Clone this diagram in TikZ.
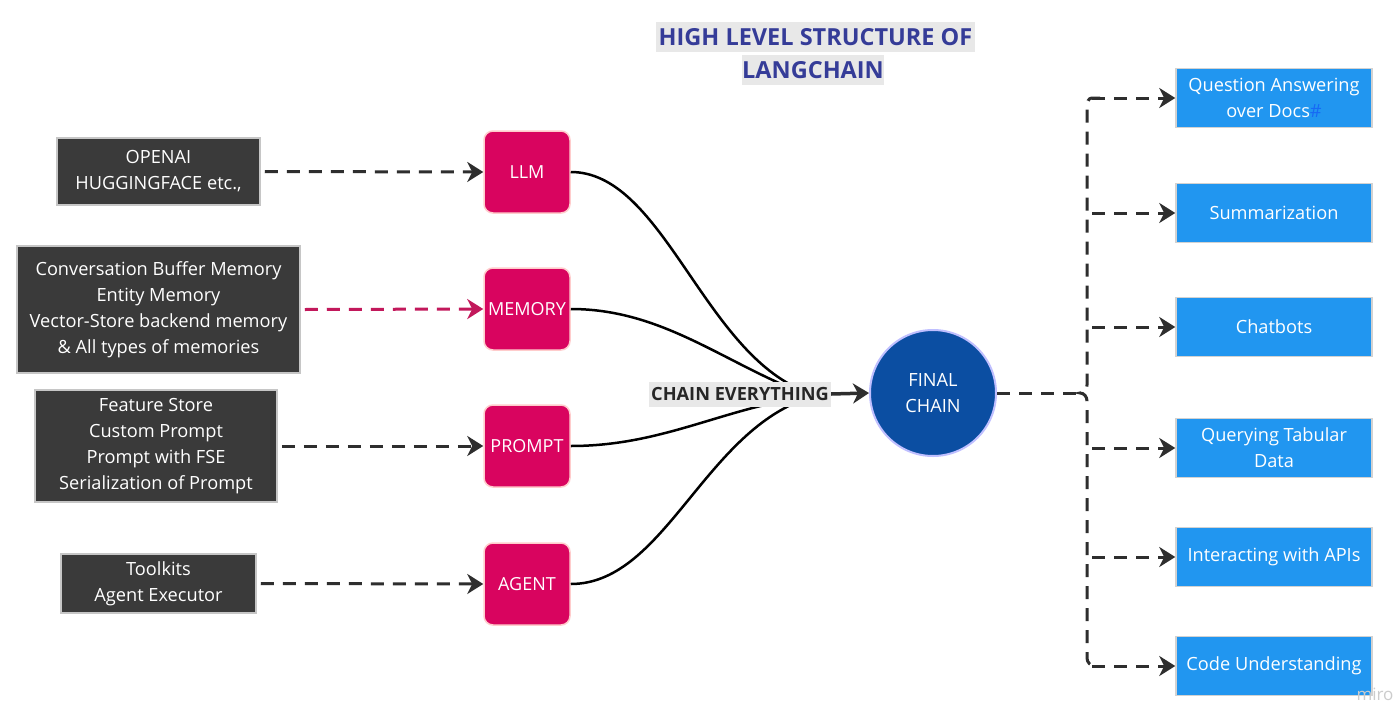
\documentclass[tikz,border=0pt]{standalone}
\usepackage{fontspec}
\setmainfont{Open Sans}
\usetikzlibrary{arrows.meta}
\definecolor{darkbox}{HTML}{3A3A3A}
\definecolor{pinkbox}{HTML}{D9045F}
\definecolor{pinkline}{HTML}{C2185B}
\definecolor{bluebox}{HTML}{2196F0}
\definecolor{circblue}{HTML}{0B4EA2}
\definecolor{titleblue}{HTML}{353C98}
\definecolor{titlebg}{HTML}{E8E8E8}
\definecolor{arrowgray}{HTML}{2E2E2E}
\tikzset{
  srcbox/.style={draw=gray!45, line width=1.5pt, fill=darkbox, text=white, align=center, font=\fontsize{18.2}{26}\selectfont, inner sep=0pt},
  compbox/.style={draw=pink!80!white, line width=1.5pt, fill=pinkbox, text=white, rounded corners=9pt, minimum width=86pt, minimum height=82pt, font=\fontsize{18}{22}\selectfont, inner sep=0pt},
  usebox/.style={draw=gray!35, line width=1.5pt, fill=bluebox, text=white, align=center, minimum width=196pt, minimum height=59pt, font=\fontsize{18.2}{26}\selectfont, inner sep=0pt},
  tip/.style={-{Stealth[length=16pt,width=20pt,inset=5pt]}},
  dasharrow/.style={draw=arrowgray, line width=3pt, dash pattern=on 13pt off 9pt, tip},
  dashline/.style={draw=arrowgray, line width=3pt, dash pattern=on 13pt off 9pt},
  chaincurve/.style={draw=black, line width=2.5pt},
}
\begin{document}
\begin{tikzpicture}[x=1pt,y=-1pt]
\fill[white] (0,0) rectangle (1400,704);
\useasboundingbox (0,0) rectangle (1400,704);

% Title
\node[fill=titlebg, text=titleblue, font=\fontsize{23.5}{28}\bfseries\selectfont, minimum width=319pt, minimum height=30pt, inner sep=0pt] (t1) at (815.5,37) {HIGH LEVEL STRUCTURE OF};
\node[fill=titlebg, text=titleblue, font=\fontsize{23.5}{28}\bfseries\selectfont, minimum width=142pt, minimum height=30pt, inner sep=0pt] (t2) at (813,70) {LANGCHAIN};

% Source boxes
\node[srcbox, minimum width=203pt, minimum height=67pt] (s1) at (158.5,171.5) {OPENAI\\HUGGINGFACE etc.,};
\node[srcbox, minimum width=283pt, minimum height=127pt] (s2) at (158.5,309.5) {Conversation Buffer Memory\\Entity Memory\\Vector-Store backend memory\\\& All types of memories};
\node[srcbox, minimum width=242pt, minimum height=112pt] (s3) at (156,446) {Feature Store\\Custom Prompt\\Prompt with FSE\\Serialization of Prompt};
\node[srcbox, minimum width=195pt, minimum height=59pt] (s4) at (158.5,583.5) {Toolkits\\Agent Executor};

% Component boxes
\node[compbox] (llm) at (527,172) {LLM};
\node[compbox] (mem) at (527,309) {MEMORY};
\node[compbox] (prm) at (527,446) {PROMPT};
\node[compbox] (agt) at (527,584) {AGENT};

% Dashed arrows
\draw[dasharrow] (s1.east) ++(4pt,0) -- (llm.west);
\draw[dasharrow, draw=pinkline, -{Stealth[length=16pt,width=20pt,inset=5pt,fill=pinkline]}] (s2.east) ++(4pt,0) -- (mem.west);
\draw[dasharrow] (s3.east) ++(4pt,0) -- (prm.west);
\draw[dasharrow] (s4.east) ++(4pt,0) -- (agt.west);

% Convergence
\draw[chaincurve] (llm.east) .. controls (660,172) and (700,340) .. (795,387);
\draw[chaincurve] (mem.east) .. controls (660,309) and (720,360) .. (800,392);
\draw[chaincurve] (prm.east) .. controls (660,446) and (720,410) .. (800,398);
\draw[chaincurve] (agt.east) .. controls (660,584) and (700,445) .. (795,403);

\node[fill=titlebg, text=black!85, font=\fontsize{18.2}{20}\bfseries\selectfont, inner sep=2pt, minimum height=25pt] (ce) at (740,394) {CHAIN EVERYTHING};

% Final chain
\node[circle, draw=blue!25!white, line width=2pt, fill=circblue, text=white, minimum size=126pt, align=center, font=\fontsize{18.2}{26}\selectfont, inner sep=0pt] (fc) at (933,393) {FINAL\\CHAIN};
\draw[draw=arrowgray, line width=3.5pt, tip] (ce.east) -- (fc.west);

% Use-case boxes
\node[usebox] (u1) at (1274,98) {Question Answering\\over Docs\textcolor{bluebox!70!blue}{\#}};
\node[usebox] (u2) at (1274,213) {Summarization};
\node[usebox] (u3) at (1274,327) {Chatbots};
\node[usebox] (u4) at (1274,448) {Querying Tabular\\Data};
\node[usebox] (u5) at (1274,557) {Interacting with APIs};
\node[usebox] (u6) at (1274,666) {Code Understanding};

% Distribution bracket
\coordinate (bj) at (1080,393);
\draw[dashline] (fc.east) -- (bj);
\draw[dashline] (1100,98) -- (1092,98) to[out=180,in=90] (1087,106) -- (1087,385) to[out=270,in=0] (bj) to[out=0,in=90] (1087,401) -- (1087,658) to[out=270,in=180] (1095,666);
\draw[dasharrow] (1092,98) -- (u1.west);
\draw[dasharrow] (1092,213) -- (u2.west);
\draw[dasharrow] (1092,327) -- (u3.west);
\draw[dasharrow] (1092,448) -- (u4.west);
\draw[dasharrow] (1092,557) -- (u5.west);
\draw[dasharrow] (1092,666) -- (u6.west);

% watermark
\node[text=gray!40, font=\fontsize{17}{20}\selectfont] (wm) at (1375,694) {miro};
\end{tikzpicture}
\end{document}
